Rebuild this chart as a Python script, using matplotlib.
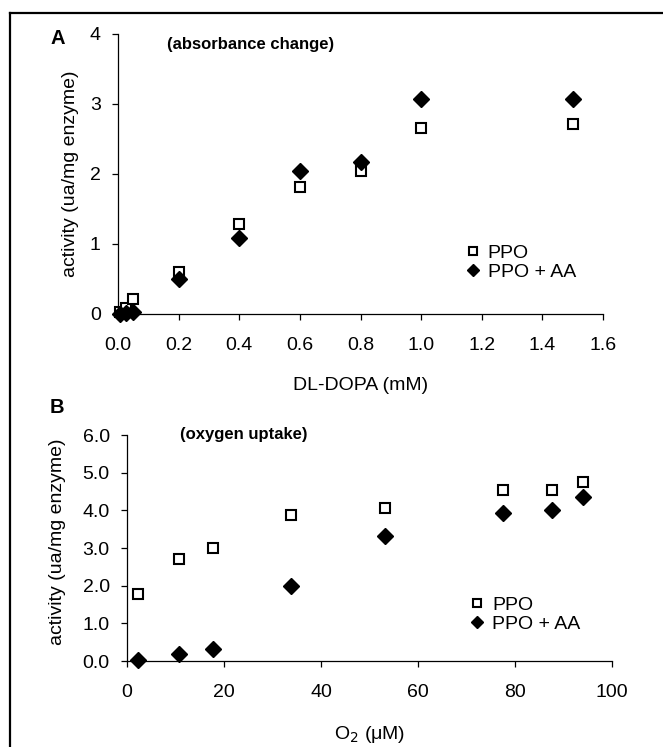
import matplotlib
matplotlib.use("Agg")
import matplotlib.pyplot as plt
from matplotlib.lines import Line2D

plt.rcParams['font.family'] = ['Liberation Sans', 'DejaVu Sans']
plt.rcParams['font.size'] = 14

# panel A: absorbance change vs DL-DOPA
dopa = [0.005, 0.025, 0.05, 0.2, 0.4, 0.6, 0.8, 1.0, 1.5]
ppo_a = [0.03, 0.08, 0.21, 0.60, 1.28, 1.81, 2.04, 2.65, 2.71]
ppo_aa_a = [0.0, 0.01, 0.03, 0.50, 1.08, 2.04, 2.17, 3.07, 3.07]

# panel B: oxygen uptake vs O2
o2 = [2.3, 10.8, 17.8, 33.9, 53.2, 77.5, 87.6, 94.0]
ppo_b = [1.77, 2.71, 3.01, 3.88, 4.05, 4.55, 4.55, 4.75]
ppo_aa_b = [0.03, 0.18, 0.32, 1.99, 3.32, 3.93, 4.0, 4.36]

series_names = ['PPO', 'PPO + AA']

fig = plt.figure(figsize=(6.63, 7.47), dpi=100)
axA = fig.add_axes([0.178, 0.5797, 0.7315, 0.3748])
axB = fig.add_axes([0.1916, 0.1151, 0.7315, 0.3025])


def style(ax):
    for s in ['top', 'right']:
        ax.spines[s].set_visible(False)
    for s in ['left', 'bottom']:
        ax.spines[s].set_linewidth(0.9)
    ax.tick_params(direction='out', length=4.5, width=0.9)
    ax.tick_params(axis='x', pad=12)
    ax.tick_params(axis='y', pad=8)


def draw(ax, x, y1, y2):
    ax.plot(x, y1, 's', ms=7.5, mfc='white', mec='black', mew=1.5,
            clip_on=False, zorder=3, label=series_names[0])
    ax.plot(x, y2, 'D', ms=8.3, mfc='black', mec='black',
            clip_on=False, zorder=4, label=series_names[1])


def legend(ax, x, y):
    ax.legend(loc='upper left', bbox_to_anchor=(x, y), frameon=False,
              borderpad=0, borderaxespad=0, handlelength=1.0, handletextpad=0.26,
              labelspacing=0.05, markerscale=0.75, fontsize=14)


draw(axA, dopa, ppo_a, ppo_aa_a)
style(axA)
axA.set_xlim(0, 1.6)
axA.set_ylim(0, 4)
axA.set_xticks([0.0, 0.2, 0.4, 0.6, 0.8, 1.0, 1.2, 1.4, 1.6])
axA.set_xticklabels(['%.1f' % v for v in axA.get_xticks()])
axA.set_yticks([0, 1, 2, 3, 4])
axA.set_xlabel('DL-DOPA (mM)')
axA.xaxis.set_label_coords(0.5, -0.255)
axA.xaxis.label.set_va('center')
axA.set_ylabel('activity (ua/mg enzyme)')
axA.yaxis.set_label_coords(-0.080, 0.5)
axA.text(0.101, 0.961, '(absorbance change)', transform=axA.transAxes,
         fontweight='bold', fontsize=12, va='center', ha='left')
legend(axA, 0.712, 0.248)

draw(axB, o2, ppo_b, ppo_aa_b)
style(axB)
axB.set_xlim(0, 100)
axB.set_ylim(0, 6)
axB.set_xticks([0, 20, 40, 60, 80, 100])
axB.set_yticks([0, 1, 2, 3, 4, 5, 6])
axB.set_yticklabels(['%.1f' % v for v in axB.get_yticks()])
axB.set_xlabel('O$_2$ (μM)')
axB.xaxis.set_label_coords(0.5, -0.323)
axB.xaxis.label.set_va('center')
axB.set_ylabel('activity (ua/mg enzyme)')
axB.yaxis.set_label_coords(-0.126, 0.53)
axB.text(0.109, 1.002, '(oxygen uptake)', transform=axB.transAxes,
         fontweight='bold', fontsize=12, va='center', ha='left')
legend(axB, 0.702, 0.285)

# panel letters
fig.text(0.0875, 0.949, 'A', fontweight='bold', fontsize=14.5, ha='center', va='center')
fig.text(0.086, 0.455, 'B', fontweight='bold', fontsize=14.5, ha='center', va='center')

# frame lines (left and top edges visible)
fig.add_artist(Line2D([0.0151, 0.0151], [0.0, 0.983], transform=fig.transFigure,
                      color='black', lw=1.6))
fig.add_artist(Line2D([0.0151, 1.0], [0.983, 0.983], transform=fig.transFigure,
                      color='black', lw=1.6))

fig.savefig('out.png', dpi=100)
